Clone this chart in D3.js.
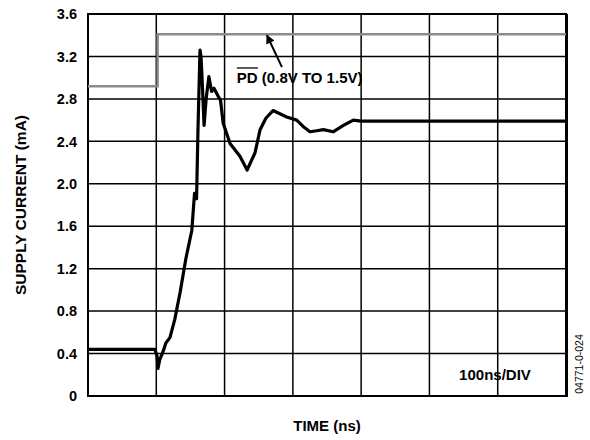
<!DOCTYPE html>
<html>
<head>
<meta charset="utf-8">
<script src="https://cdn.jsdelivr.net/npm/d3@7"></script>
<style>
  body { margin: 0; background: #fff; }
  text { font-family: "Liberation Sans", Arial, sans-serif; }
</style>
</head>
<body>
<script>
(function (d3) {
    "use strict";

    /***** Data *****/
    var yTicks = [0, 0.4, 0.8, 1.2, 1.6, 2.0, 2.4, 2.8, 3.2, 3.6];
    var xGrid = [0, 100, 200, 300, 400, 500, 600, 700];

    // supply current trace (ns, mA)
    var timeNs = [0, 98, 101, 102.5, 105, 110, 114, 120, 127, 131, 135, 143.5, 152, 156, 159, 161, 164,
        165.5, 167.7, 170, 173, 177, 181, 184.5, 191, 194, 198, 208, 222.5, 233, 244.5, 252, 260.7,
        271, 281, 291, 305.6, 315, 325, 335, 344.6, 359, 374, 388.5, 400, 700];
    var supplyCurrent = [0.44, 0.44, 0.38, 0.26, 0.34, 0.42, 0.50, 0.55, 0.72, 0.85, 0.98, 1.3, 1.56, 1.91, 1.86, 2.5, 3.26,
        3.2, 2.9, 2.55, 2.8, 3.01, 2.87, 2.9, 2.82, 2.79, 2.57, 2.38, 2.26, 2.13, 2.29, 2.51, 2.62,
        2.69, 2.66, 2.63, 2.60, 2.54, 2.49, 2.50, 2.51, 2.49, 2.55, 2.60, 2.59, 2.59];

    // PD logic step (drawn on the same mA axis)
    var pdTime = [0, 102, 102, 700];
    var pdLevel = [2.92, 2.92, 3.41, 3.41];

    /***** Configuration *****/
    var width = 590, height = 440;
    var margin = { top: 14, right: 24, bottom: 44, left: 88 };
    var chartWidth = width - margin.left - margin.right;
    var chartHeight = height - margin.top - margin.bottom;

    var xScale = d3.scaleLinear().domain([0, 700]).range([0, chartWidth]);
    var yScale = d3.scaleLinear().domain([0, 3.6]).range([chartHeight, 0]);

    var svg = d3.select("body").append("svg")
        .attr("width", width)
        .attr("height", height);

    var g = svg.append("g")
        .attr("transform", "translate(" + margin.left + "," + margin.top + ")");

    /***** Grid *****/
    g.selectAll(".hgrid").data(yTicks).enter().append("line")
        .attr("x1", 0).attr("x2", chartWidth)
        .attr("y1", function (d) { return yScale(d); })
        .attr("y2", function (d) { return yScale(d); })
        .attr("stroke", "#000").attr("stroke-width", 1.5);

    g.selectAll(".vgrid").data(xGrid).enter().append("line")
        .attr("y1", 0).attr("y2", chartHeight)
        .attr("x1", function (d) { return xScale(d); })
        .attr("x2", function (d) { return xScale(d); })
        .attr("stroke", "#000").attr("stroke-width", 1.5);

    g.append("rect")
        .attr("width", chartWidth).attr("height", chartHeight)
        .attr("fill", "none").attr("stroke", "#000").attr("stroke-width", 2);
    g.append("line")
        .attr("x1", chartWidth + 1).attr("x2", chartWidth + 1)
        .attr("y1", 0).attr("y2", chartHeight + 1)
        .attr("stroke", "#000").attr("stroke-width", 2);

    /***** Y tick labels *****/
    g.selectAll(".ylab").data(yTicks).enter().append("text")
        .attr("x", -11)
        .attr("y", function (d) { return yScale(d); })
        .attr("dy", "0.36em")
        .attr("text-anchor", "end")
        .attr("font-size", 14.5).attr("font-weight", "bold")
        .text(function (d) { return d === 0 ? "0" : d.toFixed(1); });

    /***** Traces *****/
    var pdData = pdTime.map(function (t, i) { return [t, pdLevel[i]]; });
    var curData = timeNs.map(function (t, i) { return [t, supplyCurrent[i]]; });

    var line = d3.line()
        .x(function (d) { return xScale(d[0]); })
        .y(function (d) { return yScale(d[1]); });

    g.append("path").datum(pdData)
        .attr("d", line)
        .attr("fill", "none").attr("stroke", "#8c8c8c").attr("stroke-width", 2.5);

    g.append("path").datum(curData)
        .attr("d", line)
        .attr("fill", "none").attr("stroke", "#000").attr("stroke-width", 3.2)
        .attr("stroke-linejoin", "round");

    /***** Annotation *****/
    svg.append("defs").append("marker")
        .attr("id", "arrow").attr("viewBox", "0 0 10 10")
        .attr("refX", 9).attr("refY", 5)
        .attr("markerWidth", 5).attr("markerHeight", 4.5)
        .attr("orient", "auto")
        .append("path").attr("d", "M0,0L10,5L0,10z").attr("fill", "#000");

    g.append("line")
        .attr("x1", xScale(284)).attr("y1", yScale(3.1))
        .attr("x2", xScale(262)).attr("y2", yScale(3.40))
        .attr("stroke", "#000").attr("stroke-width", 2)
        .attr("marker-end", "url(#arrow)");

    var annX = xScale(218), annY = yScale(2.95);
    var ann = g.append("text")
        .attr("x", annX).attr("y", annY)
        .attr("font-size", 15).attr("font-weight", "bold");
    ann.append("tspan").text("PD");
    ann.append("tspan").text(" (0.8V TO 1.5V)");
    g.append("line")
        .attr("x1", annX).attr("x2", annX + 21)
        .attr("y1", annY - 15).attr("y2", annY - 15)
        .attr("stroke", "#000").attr("stroke-width", 1.3);

    g.append("text")
        .attr("x", xScale(596)).attr("y", yScale(0.15))
        .attr("text-anchor", "middle")
        .attr("font-size", 15).attr("font-weight", "bold")
        .text("100ns/DIV");

    /***** Axis titles *****/
    svg.append("text")
        .attr("x", margin.left + chartWidth / 2).attr("y", 431)
        .attr("text-anchor", "middle")
        .attr("font-size", 15).attr("font-weight", "bold")
        .text("TIME (ns)");

    svg.append("text")
        .attr("transform", "translate(25.5," + (margin.top + chartHeight / 2) + ") rotate(-90)")
        .attr("text-anchor", "middle")
        .attr("font-size", 15.5).attr("font-weight", "bold")
        .text("SUPPLY CURRENT (mA)");

    svg.append("text")
        .attr("transform", "translate(583,364) rotate(-90)")
        .attr("text-anchor", "middle")
        .attr("font-size", 10.5)
        .text("04771-0-024");

})(d3);
</script>
</body>
</html>
